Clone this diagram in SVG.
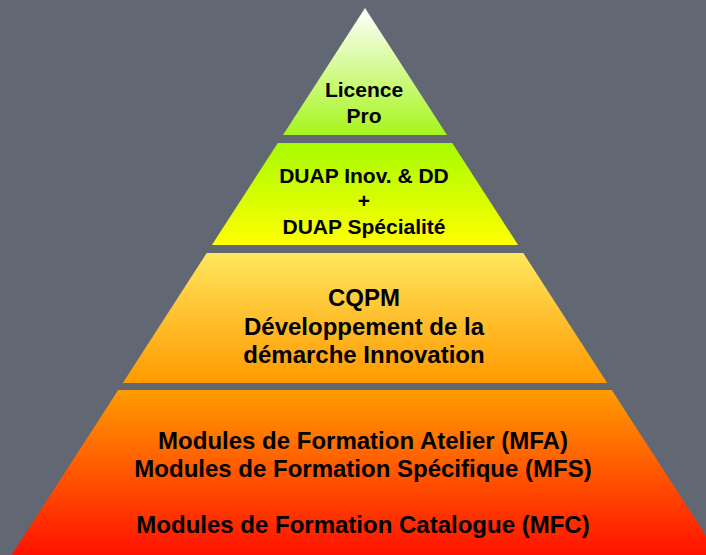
<svg xmlns="http://www.w3.org/2000/svg" width="706" height="555" viewBox="0 0 706 555">
<defs>
<linearGradient id="g1" x1="0" y1="0" x2="0" y2="1"><stop offset="0" stop-color="#ffffff"/><stop offset="1" stop-color="#a6f51c"/></linearGradient>
<linearGradient id="g2" x1="0" y1="0" x2="0" y2="1"><stop offset="0" stop-color="#a8fb00"/><stop offset="1" stop-color="#ffff00"/></linearGradient>
<linearGradient id="g3" x1="0" y1="0" x2="0" y2="1"><stop offset="0" stop-color="#ffe65c"/><stop offset="1" stop-color="#ff9a00"/></linearGradient>
<linearGradient id="g4" x1="0" y1="0" x2="0" y2="1"><stop offset="0" stop-color="#ff9c00"/><stop offset="1" stop-color="#ff1200"/></linearGradient>
<style>
text{font-family:"Liberation Sans",Arial,sans-serif;font-weight:bold;fill:#000;text-anchor:middle}
.s{font-size:21px}
.l{font-size:24px}
</style>
</defs>
<rect width="706" height="555" fill="#626774"/>
<g id="connectors"/>
<g id="licence">
<polygon points="365,8 447,135 283,135" fill="url(#g1)"/>
<text class="s" x="364" y="97">Licence</text>
<text class="s" x="364" y="123">Pro</text>
</g>
<g id="duap">
<polygon points="277.8,143 452.2,143 518.1,245 211.9,245" fill="url(#g2)"/>
<text class="s" x="364" y="183">DUAP Inov. &amp; DD</text>
<text class="s" x="364" y="208">+</text>
<text class="s" x="364" y="234">DUAP Spécialité</text>
</g>
<g id="cqpm">
<polygon points="206.7,253 523.3,253 607.2,383 122.8,383" fill="url(#g3)"/>
<text class="l" x="364" y="306">CQPM</text>
<text class="l" x="364" y="335">Développement de la</text>
<text class="l" x="364" y="363">démarche Innovation</text>
</g>
<g id="modules">
<polygon points="118.2,390 611.8,390 718.4,555 11.6,555" fill="url(#g4)"/>
<text class="l" x="363" y="449">Modules de Formation Atelier (MFA)</text>
<text class="l" x="363" y="477">Modules de Formation Spécifique (MFS)</text>
<text class="l" x="363" y="533">Modules de Formation Catalogue (MFC)</text>
</g>
</svg>
